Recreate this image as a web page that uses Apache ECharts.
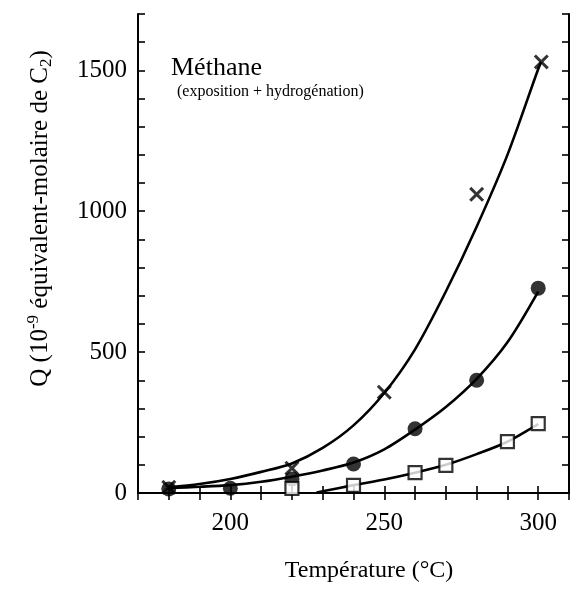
<!DOCTYPE html>
<html>
<head>
<meta charset="utf-8">
<script src="https://cdn.jsdelivr.net/npm/echarts@6/dist/echarts.min.js"></script>
<style>html,body{margin:0;padding:0;background:#fff}#c{width:572px;height:594px}</style>
</head>
<body>
<div id="c"></div>
<script>
// ---- data ----
const crossT = [180, 220, 250, 280, 301];
const crossQ = [20, 88, 358, 1060, 1530];
const dotT = [180, 200, 220, 240, 260, 280, 300];
const dotQ = [14, 17, 50, 103, 228, 400, 727];
const squareT = [220, 240, 260, 270, 290, 300];
const squareQ = [16, 27, 72, 98, 182, 246];

const crossCurveT = [180, 190, 200, 210, 220, 230, 240, 250, 260, 270, 280, 290, 300, 301];
const crossCurveQ = [20, 32, 50, 75, 105, 160, 240, 355, 510, 715, 945, 1200, 1505, 1530];
const dotCurveT = [180, 190, 200, 210, 220, 230, 240, 250, 260, 270, 280, 290, 300];
const dotCurveQ = [18, 22, 28, 40, 58, 80, 108, 155, 225, 305, 405, 535, 715];
const squareCurveT = [228, 230, 240, 250, 260, 270, 280, 290, 300];
const squareCurveQ = [2, 6, 28, 48, 72, 100, 138, 182, 245];

const xTickLabels = [200, 250, 300];
const yTickLabels = [0, 500, 1000, 1500];

const titleText = 'Méthane';
const subtitleText = '(exposition + hydrogénation)';
const xName = 'Température (°C)';

// ---- chart ----
const pair = (xs, ys) => xs.map((x, i) => [x, ys[i]]);
const FONT = '"Liberation Serif", "Times New Roman", serif';
const crossPath = 'path://M0,2 L2,0 L7,5 L12,0 L14,2 L9,7 L14,12 L12,14 L7,9 L2,14 L0,12 L5,7 Z';

const axisCommon = {
  axisLine: { show: true, lineStyle: { color: '#000', width: 2 } },
  axisTick: { show: true, inside: true, length: 7, lineStyle: { color: '#000', width: 1.6 } },
  splitLine: { show: false }
};

const chart = echarts.init(document.getElementById('c'), null, { renderer: 'canvas' });
chart.setOption({
  animation: false,
  backgroundColor: '#fff',
  title: [
    { text: titleText, left: 171, top: 55, padding: 0,
      textStyle: { fontFamily: FONT, fontSize: 26, fontWeight: 'normal', color: '#000' } },
    { text: subtitleText, left: 177, top: 84, padding: 0,
      textStyle: { fontFamily: FONT, fontSize: 16, fontWeight: 'normal', color: '#000' } }
  ],
  grid: { left: 138, right: 1, top: 14, bottom: 101, containLabel: false },
  xAxis: [
    Object.assign({}, axisCommon, {
      type: 'value', min: 170, max: 310, interval: 10, position: 'bottom',
      axisLabel: { show: true, margin: 18, fontFamily: FONT, fontSize: 25, color: '#000',
        formatter: v => xTickLabels.includes(v) ? String(v) : '' },
      name: xName, nameLocation: 'middle', nameGap: 66,
      nameTextStyle: { fontFamily: FONT, fontSize: 24, color: '#000', padding: [0, 0, 0, 31] }
    }),
    Object.assign({}, axisCommon, {
      type: 'value', min: 170, max: 310, interval: 10, position: 'top',
      axisLabel: { show: false }
    })
  ],
  yAxis: [
    Object.assign({}, axisCommon, {
      type: 'value', min: 0, max: 1700, interval: 100, position: 'left',
      axisLabel: { show: true, margin: 11, fontFamily: FONT, fontSize: 25, color: '#000',
        padding: [6, 0, 0, 0],
        formatter: v => yTickLabels.includes(v) ? String(v) : '' },
      name: '{a|Q (10}{sup|-9}{a| équivalent-molaire de C}{sub|2}{a|)}',
      nameLocation: 'middle', nameRotate: 90, nameGap: 83,
      nameTextStyle: {
        padding: [0, 0, 0, 70],
        rich: {
          a: { fontFamily: FONT, fontSize: 25, color: '#000', lineHeight: 30, verticalAlign: 'middle' },
          sup: { fontFamily: FONT, fontSize: 17, color: '#000', lineHeight: 30, verticalAlign: 'top' },
          sub: { fontFamily: FONT, fontSize: 17, color: '#000', lineHeight: 30, verticalAlign: 'bottom' }
        }
      }
    }),
    Object.assign({}, axisCommon, {
      type: 'value', min: 0, max: 1700, interval: 100, position: 'right',
      axisLabel: { show: false }
    })
  ],
  series: [
    { type: 'line', data: pair(crossCurveT, crossCurveQ), smooth: 0.3, showSymbol: false,
      lineStyle: { color: '#000', width: 2.6 }, z: 2 },
    { type: 'line', data: pair(dotCurveT, dotCurveQ), smooth: 0.3, showSymbol: false,
      lineStyle: { color: '#000', width: 2.6 }, z: 2 },
    { type: 'line', data: pair(squareCurveT, squareCurveQ), smooth: 0.3, showSymbol: false,
      lineStyle: { color: '#000', width: 2.6 }, z: 2 },
    { type: 'scatter', data: pair(crossT, crossQ), symbol: crossPath, symbolSize: 15,
      itemStyle: { color: '#000' }, z: 5 },
    { type: 'scatter', data: pair(dotT, dotQ), symbol: 'circle', symbolSize: 15,
      itemStyle: { color: '#000' }, z: 5 },
    { type: 'scatter', data: pair(squareT, squareQ), symbol: 'rect', symbolSize: 13,
      itemStyle: { color: '#fff', borderColor: '#000', borderWidth: 2.2 }, z: 6 }
  ]
});
</script>
</body>
</html>
